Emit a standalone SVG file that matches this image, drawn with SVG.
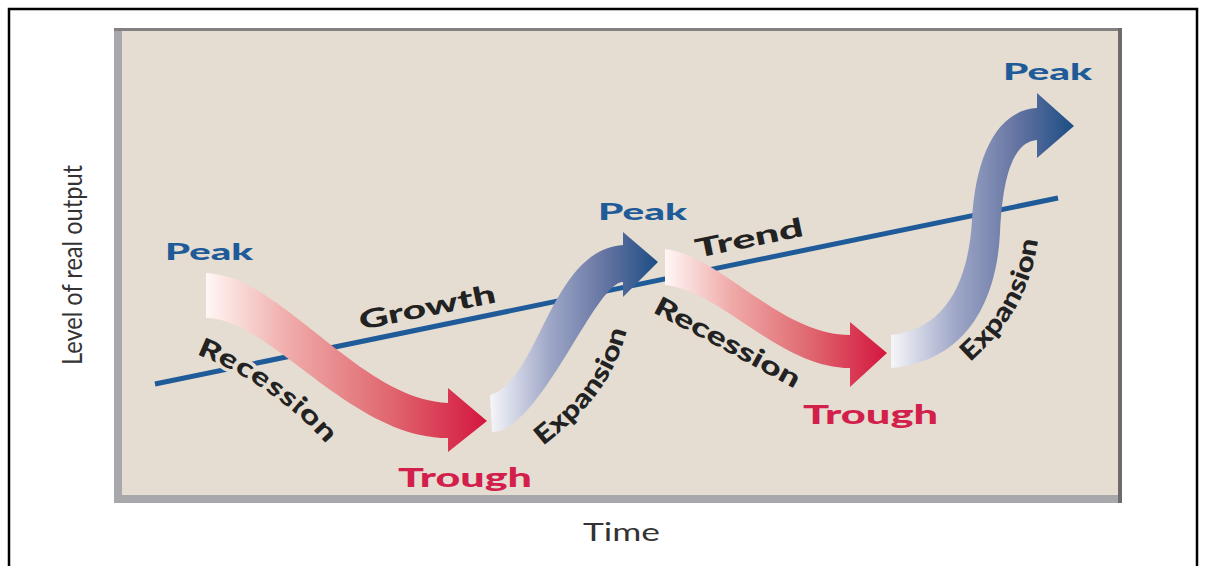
<svg xmlns="http://www.w3.org/2000/svg" width="1206" height="566" viewBox="0 0 1206 566">
  <style>
    .lbl { font-family: Lato, "Open Sans", "Liberation Sans", sans-serif; font-weight: 900; }
    .peak { fill: #1e5b98; font-size: 23px; }
    .trough { fill: #d21f4c; font-size: 26px; }
    .phase { fill: #222222; font-size: 26px; }
    .halo { stroke: #e5ddd2; stroke-width: 7px; paint-order: stroke; stroke-linejoin: round; }
    .axis { font-family: Lato, "Open Sans", "Liberation Sans", sans-serif; font-weight: 400; fill: #333333; }
  </style>
  <defs>
    <linearGradient id="gRed" x1="0" y1="0" x2="1" y2="0">
      <stop offset="0" stop-color="#fff7f5"/>
      <stop offset="0.3" stop-color="#efaaa8"/>
      <stop offset="0.65" stop-color="#e06870"/>
      <stop offset="1" stop-color="#d4163f"/>
    </linearGradient>
    <linearGradient id="gBlue" x1="0" y1="0" x2="1" y2="0">
      <stop offset="0" stop-color="#f6f6fa"/>
      <stop offset="0.35" stop-color="#a0a8c8"/>
      <stop offset="0.7" stop-color="#6272a0"/>
      <stop offset="1" stop-color="#1c4d85"/>
    </linearGradient>
    <!-- baselines for the curved phase labels -->
    <path id="pRec1" d="M196,354 Q275,385 330,448"/>
    <path id="pExp1" d="M543,446 C575,420 612,390 627,330"/>
    <path id="pRec2" d="M652,312 Q725,350 800,392"/>
    <path id="pExp2" d="M970,362 C1000,335 1030,300 1038,240"/>
  </defs>

  <!-- outer border -->
  <rect x="9" y="9" width="1188" height="572" fill="#ffffff" stroke="#000000" stroke-width="2.5"/>

  <!-- plot frame -->
  <g id="frame">
    <rect x="118" y="29" width="1002" height="470" fill="#e5ddd2"/>
    <rect x="114" y="29" width="8" height="474" fill="#a8a8ac"/>
    <rect x="114" y="495" width="1007" height="8" fill="#a8a8ac"/>
    <rect x="114" y="28" width="1007" height="3" fill="#848080"/>
    <rect x="1118" y="28" width="4" height="475" fill="#6f6b6b"/>
  </g>

  <!-- trend line -->
  <g id="connectors">
    <line x1="155" y1="384" x2="1058" y2="198" stroke="#1f5a99" stroke-width="5"/>
  </g>

  <!-- cycle arrows -->
  <g id="recession1">
    <path d="M206,273 C280,275 360,400 448,403 L448,388 L487,421 L448,452 L448,438 C350,438 270,318 206,318 Z" fill="url(#gRed)"/>
  </g>
  <g id="expansion1">
    <path d="M490,395 C540,380 550,250 623,245 L623,232 L658,262 L623,297 L623,282 C595,282 540,432 492,432 Z" fill="url(#gBlue)"/>
  </g>
  <g id="recession2">
    <path d="M665,249 C720,255 780,335 850,335 L850,322 L887,353 L850,387 L850,368 C780,368 720,290 665,285 Z" fill="url(#gRed)"/>
  </g>
  <g id="expansion2">
    <path d="M891,335 C940,330 968,290 972,220 C976,150 1000,110 1037,108 L1037,93 L1074,126 L1037,158 L1037,140 C1015,142 1003,170 1000,233 C996,310 960,362 891,368 Z" fill="url(#gBlue)"/>
  </g>

  <!-- turning points -->
  <g id="peak1"><text class="lbl peak" x="165" y="260" textLength="88" lengthAdjust="spacingAndGlyphs">Peak</text></g>
  <g id="peak2"><text class="lbl peak" x="598" y="220" textLength="89" lengthAdjust="spacingAndGlyphs">Peak</text></g>
  <g id="peak3"><text class="lbl peak" x="1003" y="80" textLength="89" lengthAdjust="spacingAndGlyphs">Peak</text></g>
  <g id="trough1"><text class="lbl trough" x="398" y="487" textLength="134" lengthAdjust="spacingAndGlyphs">Trough</text></g>
  <g id="trough2"><text class="lbl trough" x="803" y="424" textLength="135" lengthAdjust="spacingAndGlyphs">Trough</text></g>

  <!-- trend labels -->
  <g id="growth"><text class="lbl phase" transform="translate(361,330) rotate(-11.6)" textLength="139" lengthAdjust="spacingAndGlyphs">Growth</text></g>
  <g id="trend"><text class="lbl phase" transform="translate(697,258) rotate(-11.6)" textLength="110" lengthAdjust="spacingAndGlyphs">Trend</text></g>

  <!-- phase labels -->
  <g id="recLabel1"><text class="lbl phase halo"><textPath href="#pRec1" textLength="160" lengthAdjust="spacingAndGlyphs">Recession</textPath></text></g>
  <g id="expLabel1"><text class="lbl phase"><textPath href="#pExp1" textLength="146" lengthAdjust="spacingAndGlyphs">Expansion</textPath></text></g>
  <g id="recLabel2"><text class="lbl phase"><textPath href="#pRec2" textLength="162" lengthAdjust="spacingAndGlyphs">Recession</textPath></text></g>
  <g id="expLabel2"><text class="lbl phase"><textPath href="#pExp2" textLength="143" lengthAdjust="spacingAndGlyphs">Expansion</textPath></text></g>

  <!-- axis titles -->
  <g id="xAxis"><text class="axis" x="583" y="541" font-size="25" textLength="77" lengthAdjust="spacingAndGlyphs">Time</text></g>
  <g id="yAxis"><text class="axis" transform="translate(82,365) rotate(-90)" font-size="27" textLength="200" lengthAdjust="spacingAndGlyphs">Level of real output</text></g>
</svg>
